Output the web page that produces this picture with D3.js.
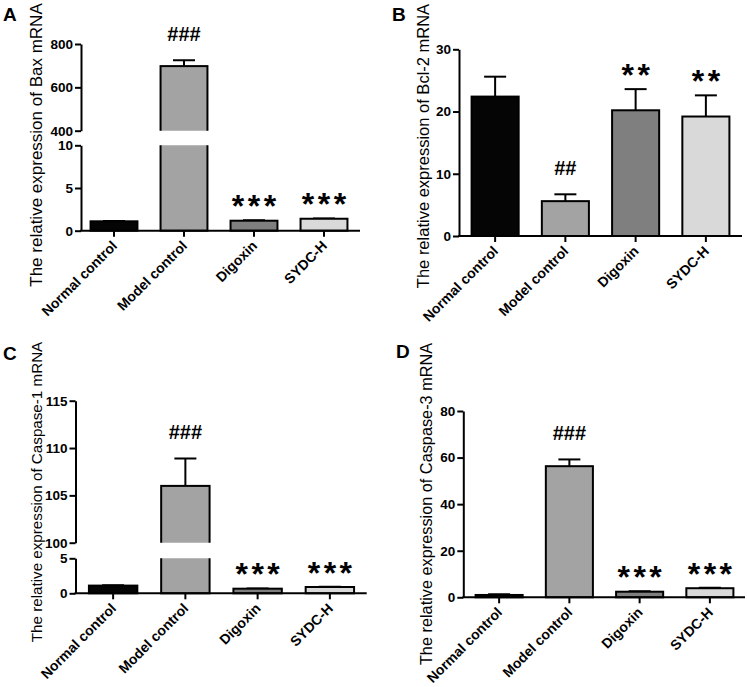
<!DOCTYPE html>
<html>
<head>
<meta charset="utf-8">
<script src="https://cdn.jsdelivr.net/npm/d3@7"></script>
<style>
  html, body { margin: 0; padding: 0; background: #fff; }
  svg { display: block; font-family: "Liberation Sans", Arial, sans-serif; }
</style>
</head>
<body>
<div id="chart"></div>
<script>
// Four bar panels (mRNA expression), GraphPad-style with broken y axes on A and C

const groups = ['Normal control', 'Model control', 'Digoxin', 'SYDC-H'];
const fills = ['#050505', '#a3a3a3', '#7f7f7f', '#d9d9d9'];

const baxMean = [1.1, 698, 1.17, 1.4];
const baxErr = [0.04, 27, 0.04, 0.04];
const baxMarks = ['', '###', '***', '***'];
const baxTicksLow = [0, 5, 10];
const baxTicksHigh = [400, 600, 800];

const bcl2Mean = [22.4, 5.6, 20.2, 19.2];
const bcl2Err = [3.2, 1.1, 3.4, 3.4];
const bcl2Marks = ['', '##', '**', '**'];
const bcl2Ticks = [0, 10, 20, 30];

const casp1Mean = [1.1, 106.0, 0.66, 0.9];
const casp1Err = [0.06, 2.9, 0.04, 0.05];
const casp1Marks = ['', '###', '***', '***'];
const casp1TicksLow = [0, 5];
const casp1TicksHigh = [100, 105, 110, 115];

const casp3Mean = [1.0, 56.3, 2.4, 3.9];
const casp3Err = [0.3, 2.9, 0.2, 0.2];
const casp3Marks = ['', '###', '***', '***'];
const casp3Ticks = [0, 20, 40, 60, 80];

const panels = [
  {
    letter: 'A', title: 'The relative expression of Bax mRNA',
    mean: baxMean, err: baxErr, marks: baxMarks,
    segments: [{ domain: [0, 10], ticks: baxTicksLow }, { domain: [400, 800], ticks: baxTicksHigh }],
    layout: { axisX: 81, axisEnd: 360, band: [79, 359], seg: [[230.7, 145.3], [130.7, 44]],
      titleX: 41.5, titleY: 145, titleSize: 17, letterX: 3, letterY: 21 },
  },
  {
    letter: 'B', title: 'The relative expression of Bcl-2 mRNA',
    mean: bcl2Mean, err: bcl2Err, marks: bcl2Marks,
    segments: [{ domain: [0, 30], ticks: bcl2Ticks }],
    layout: { axisX: 459, axisEnd: 742, band: [460, 741], seg: [[236, 49.3]],
      titleX: 429, titleY: 146, titleSize: 16.5, letterX: 392, letterY: 21 },
  },
  {
    letter: 'C', title: 'The relative expression of Caspase-1 mRNA',
    mean: casp1Mean, err: casp1Err, marks: casp1Marks,
    segments: [{ domain: [0, 5], ticks: casp1TicksLow }, { domain: [100, 115], ticks: casp1TicksHigh }],
    layout: { axisX: 75.5, axisEnd: 366.7, band: [77, 366], seg: [[593.3, 558.3], [542.7, 400.7]],
      titleX: 41.5, titleY: 492, titleSize: 15.2, letterX: 3, letterY: 360 },
  },
  {
    letter: 'D', title: 'The relative expression of Caspase-3 mRNA',
    mean: casp3Mean, err: casp3Err, marks: casp3Marks,
    segments: [{ domain: [0, 80], ticks: casp3Ticks }],
    layout: { axisX: 463.3, axisEnd: 745, band: [464, 745], seg: [[597.3, 411]],
      titleX: 432, titleY: 504, titleSize: 16.3, letterX: 396, letterY: 358 },
  },
];

const width = 747;
const height = 687;

const svg = d3.select('#chart')
  .append('svg')
  .attr('width', width)
  .attr('height', height)
  .attr('viewBox', `0 0 ${width} ${height}`);

svg.append('rect').attr('width', width).attr('height', height).attr('fill', '#fff');
const defs = svg.append('defs');

panels.forEach((p) => {
  const L = p.layout;
  const g = svg.append('g');

  const x = d3.scaleBand().domain(groups).range(L.band).paddingInner(0.33).paddingOuter(0.165);
  const scales = p.segments.map((s, i) => d3.scaleLinear().domain(s.domain).range(L.seg[i]));
  const base = L.seg[0][0];

  // bars, clipped per axis segment so the break shows as a white gap
  scales.forEach((y, i) => {
    const last = i === scales.length - 1;
    const [lo, hi] = y.domain();
    const yBottom = y.range()[0];
    const yTop = y.range()[1];
    const clipId = `clip-${p.letter}-${i}`;
    const clipTop = last ? 0 : yTop;
    const clipBottom = i === 0 ? yBottom + 3 : yBottom;
    defs.append('clipPath').attr('id', clipId)
      .append('rect')
      .attr('x', L.axisX).attr('y', clipTop)
      .attr('width', L.axisEnd - L.axisX + 10)
      .attr('height', clipBottom - clipTop);
    const cg = g.append('g').attr('clip-path', `url(#${clipId})`);

    groups.forEach((grp, k) => {
      const v = p.mean[k];
      if (v <= lo) return;
      const top = v > hi ? yTop - 10 : y(v);
      const bottom = i === 0 ? y(lo) : yBottom + 10;
      const cx = x(grp) + x.bandwidth() / 2;
      if (v <= hi) {
        const e = y(v + p.err[k]);
        cg.append('line').attr('x1', cx).attr('x2', cx).attr('y1', y(v)).attr('y2', e)
          .attr('stroke', '#000').attr('stroke-width', 2);
        cg.append('line').attr('x1', cx - 11).attr('x2', cx + 11).attr('y1', e).attr('y2', e)
          .attr('stroke', '#000').attr('stroke-width', 2);
      }
      cg.append('rect')
        .attr('x', x(grp))
        .attr('y', top)
        .attr('width', x.bandwidth())
        .attr('height', bottom - top)
        .attr('fill', fills[k])
        .attr('stroke', '#000')
        .attr('stroke-width', 2);
    });
  });

  // significance marks
  groups.forEach((grp, k) => {
    const m = p.marks[k];
    if (!m) return;
    const t = p.mean[k] + p.err[k];
    const y = scales.find((s) => t >= s.domain()[0] && t <= s.domain()[1]) || scales[scales.length - 1];
    const cx = x(grp) + x.bandwidth() / 2;
    const isStar = m[0] === '*';
    const txt = g.append('text')
      .attr('x', cx)
      .attr('text-anchor', 'middle')
      .attr('font-weight', 'bold')
      .attr('fill', '#000')
      .text(m);
    if (isStar) {
      txt.attr('y', y(t) - 3).attr('font-size', 32).attr('letter-spacing', 3.5).attr('dx', 1.75);
    } else {
      txt.attr('y', y(t) - 19).attr('font-size', 20);
    }
  });

  // y axis segments
  scales.forEach((y, i) => {
    const ax = g.append('g')
      .attr('transform', `translate(${L.axisX},0)`)
      .call(d3.axisLeft(y).tickValues(p.segments[i].ticks).tickFormat(d3.format('d'))
        .tickSize(6).tickSizeOuter(0).tickPadding(2));
    ax.selectAll('path, line').attr('stroke', '#000').attr('stroke-width', 2);
    ax.selectAll('text').attr('font-size', 13.5).attr('font-weight', 'bold').attr('fill', '#000')
      .attr('font-family', '"Liberation Sans", Arial, sans-serif');
  });

  // x axis
  const xa = g.append('g')
    .attr('transform', `translate(0,${base})`)
    .call(d3.axisBottom(x).tickSize(6).tickSizeOuter(0));
  xa.select('.domain').remove();
  xa.selectAll('line').attr('stroke', '#000').attr('stroke-width', 2);
  xa.selectAll('text')
    .attr('y', 0).attr('dy', 0)
    .attr('text-anchor', 'end')
    .attr('transform', 'translate(4,16) rotate(-45)')
    .attr('font-size', 14).attr('font-weight', 'bold').attr('fill', '#000')
    .attr('font-family', '"Liberation Sans", Arial, sans-serif');
  g.append('line')
    .attr('x1', L.axisX - 1).attr('x2', L.axisEnd)
    .attr('y1', base).attr('y2', base)
    .attr('stroke', '#000').attr('stroke-width', 2);

  // y title
  g.append('text')
    .attr('transform', `translate(${L.titleX},${L.titleY}) rotate(-90)`)
    .attr('text-anchor', 'middle')
    .attr('font-size', L.titleSize)
    .attr('fill', '#000')
    .text(p.title);

  // panel letter
  g.append('text')
    .attr('x', L.letterX).attr('y', L.letterY)
    .attr('font-size', 19).attr('font-weight', 'bold').attr('fill', '#000')
    .text(p.letter);
});
</script>
</body>
</html>
